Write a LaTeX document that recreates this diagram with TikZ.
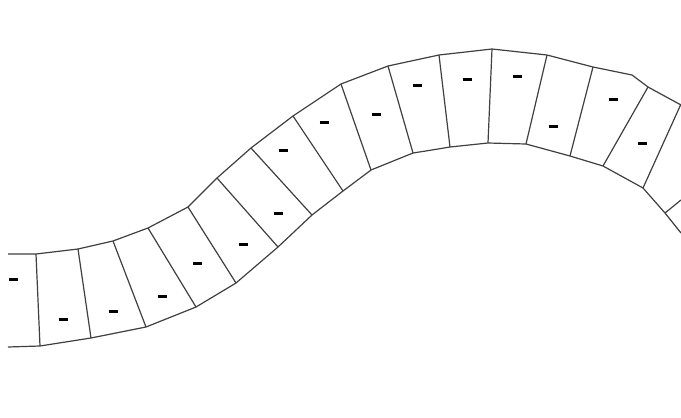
\documentclass[tikz,border=0pt]{standalone}
\begin{document}
\begin{tikzpicture}[x=1pt,y=-1pt,
  edgeline/.style={draw=black!75,line width=1.2pt,line join=round},
  tick/.style={line width=3pt,draw=black,line cap=butt}]
\useasboundingbox[fill=white] (0,0) rectangle (681,418);
% outer (top) edge
\draw[edgeline] (8,254) -- (36,254) -- (78,249) -- (113,241) -- (148,228) -- (188,207) -- (217,178) -- (251,148) -- (293,116) -- (341,84) -- (388,66) -- (439,55) -- (492,49) -- (547,55) -- (593,67) -- (632,75) -- (648,87) -- (681,105);
% inner (bottom) edge
\draw[edgeline] (8,347) -- (40,346) -- (91,338) -- (146,327) -- (196,307) -- (236,283) -- (278,247) -- (312,215) -- (343,191) -- (371,170) -- (413,153) -- (432,150) -- (450,147) -- (488,143) -- (526,144) -- (570,156) -- (603,166) -- (643,188) -- (665,213) -- (681,233);
% cross lines
\foreach \a/\b/\c/\d in {36/254/40/346, 78/249/91/338, 113/241/146/327, 148/228/196/307,
  188/207/236/283, 217/178/278/247, 251/148/312/215, 293/116/343/191, 341/84/371/170,
  388/66/413/153, 439/55/450/147, 492/49/488/143, 547/55/526/144, 593/67/570/156,
  648/87/603/166, 681/104/643/188, 681/200/665/213}
  \draw[edgeline] (\a,\b) -- (\c,\d);
% small marks
\foreach \p/\q in {13/279, 63/319, 113/311, 162/296, 197/263, 243/244, 278/213, 283/150,
  324/122, 376/114, 417/85, 467/79, 517/76, 553/126, 613/99, 642/143}
  \draw[tick] (\p-4.5,\q) -- (\p+4.5,\q);
\end{tikzpicture}
\end{document}
